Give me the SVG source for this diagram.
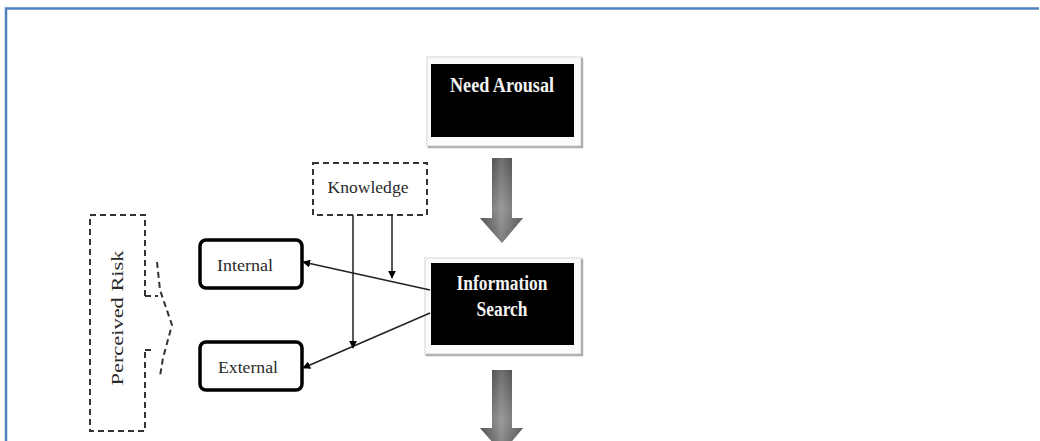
<svg xmlns="http://www.w3.org/2000/svg" width="1040" height="441" viewBox="0 0 1040 441">
<style>
.frame{fill:#fafafa;stroke:#e2e2e2;stroke-width:1.5}
.shadow{stroke:#b0b0b0;stroke-width:2.5;fill:none}
.blk{fill:#000}
.wt{font-family:"Liberation Serif",serif;font-weight:bold;fill:#f4f4f4;font-size:20px;text-anchor:middle}
.dash{fill:none;stroke:#333;stroke-width:2;stroke-dasharray:6 4}
.rbox{fill:#fff;stroke:#000;stroke-width:3.5}
.lbl{font-family:"Liberation Serif",serif;fill:#2a2a2a;font-size:17.5px;text-anchor:middle}
.conn{stroke:#222;stroke-width:1.5;fill:none;marker-end:url(#ah)}
</style>
<defs>
<marker id="ah" viewBox="0 0 10 10" refX="9" refY="5" markerWidth="8" markerHeight="8" markerUnits="userSpaceOnUse" orient="auto">
<path d="M0,0 L10,5 L0,10 z" fill="#000"/>
</marker>
<linearGradient id="gs" x1="0" y1="0" x2="1" y2="0">
<stop offset="0" stop-color="#3a3a3a"/>
<stop offset="0.5" stop-color="#a8a8a8"/>
<stop offset="1" stop-color="#4a4a4a"/>
</linearGradient>
<linearGradient id="gv" x1="0" y1="0" x2="0" y2="1">
<stop offset="0" stop-color="#2a2a2a"/>
<stop offset="0.6" stop-color="#8a8a8a"/>
<stop offset="1" stop-color="#505050"/>
</linearGradient>
</defs>
<rect x="0" y="0" width="1040" height="441" fill="#fff"/>
<path d="M6,441 L6,8.5 L1039,8.5" fill="none" stroke="#4f81bd" stroke-width="2.5"/>

<g id="need-arousal">
<rect class="frame" x="427" y="57" width="155" height="90"/>
<path class="shadow" d="M428,147 L582,147 L582,58"/>
<rect class="blk" x="431" y="64" width="143" height="73"/>
<text class="wt" x="502" y="92" textLength="104" lengthAdjust="spacingAndGlyphs">Need Arousal</text>
</g>

<g id="information-search">
<rect class="frame" x="425" y="258" width="157" height="97"/>
<path class="shadow" d="M426,355 L582,355 L582,259"/>
<rect class="blk" x="431" y="263" width="143" height="82"/>
<text class="wt" x="502" y="290" textLength="91" lengthAdjust="spacingAndGlyphs">Information</text>
<text class="wt" x="502" y="316" textLength="51" lengthAdjust="spacingAndGlyphs">Search</text>
</g>

<g id="knowledge">
<rect class="dash" x="313" y="163" width="114" height="52"/>
<text class="lbl" x="368" y="193" textLength="81" lengthAdjust="spacingAndGlyphs">Knowledge</text>
</g>

<g id="internal">
<rect class="rbox" x="200" y="240" width="102" height="48" rx="6"/>
<text class="lbl" x="245" y="271" textLength="56" lengthAdjust="spacingAndGlyphs">Internal</text>
</g>

<g id="external">
<rect class="rbox" x="200" y="342" width="102" height="48" rx="6"/>
<text class="lbl" x="248" y="373" textLength="60" lengthAdjust="spacingAndGlyphs">External</text>
</g>

<g id="perceived-risk">
<path class="dash" d="M145,296 L145,215 L90,215 L90,431 L145,431 L145,352"/>
<path class="dash" d="M145,296 L158,296 M145,350 L155,350"/>
<path class="dash" d="M157,262 L160,290 L172,325 L163,358 L160,376"/>
<text class="lbl" x="0" y="0" transform="translate(123,318) rotate(-90)" font-size="20" textLength="135" lengthAdjust="spacingAndGlyphs">Perceived Risk</text>
</g>

<g id="flow-arrows">
<path d="M492,158 L512,158 L512,218 L523,218 L502,243 L480,218 L492,218 Z" fill="url(#gs)"/>
<path d="M492,158 L512,158 L512,218 L523,218 L502,243 L480,218 L492,218 Z" fill="url(#gv)" opacity="0.45"/>
<path d="M492,370 L512,370 L512,428 L523,428 L502,453 L480,428 L492,428 Z" fill="url(#gs)"/>
<path d="M492,370 L512,370 L512,428 L523,428 L502,453 L480,428 L492,428 Z" fill="url(#gv)" opacity="0.45"/>
</g>

<g id="connectors">
<line class="conn" x1="430" y1="290" x2="303" y2="262"/>
<line class="conn" x1="430" y1="313" x2="303" y2="368"/>
<line class="conn" x1="353" y1="215" x2="353" y2="348"/>
<line class="conn" x1="392" y1="215" x2="392" y2="278"/>
</g>
</svg>
